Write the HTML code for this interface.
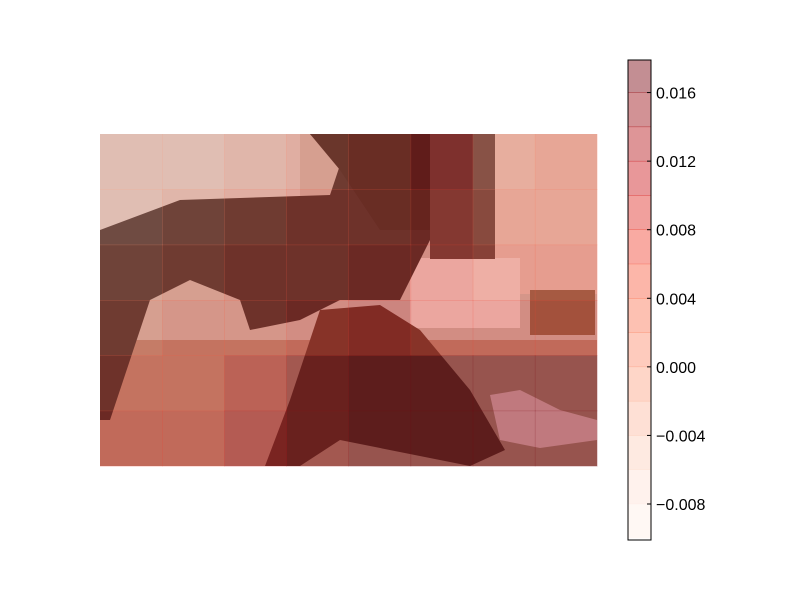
<!DOCTYPE html>
<html><head><meta charset="utf-8"><style>
body{margin:0;background:#fff;}
svg{display:block;font-family:"Liberation Sans",sans-serif;}
</style></head><body>
<svg id="chart" width="800" height="600" viewBox="0 0 800 600">
<g id="photo">
  <rect x="100" y="134" width="497" height="332" fill="#c2b6b0"/>
  <rect x="100" y="134" width="200" height="100" fill="#d2cccb"/>
  <rect x="495" y="134" width="102" height="160" fill="#dcc0b8"/>
  <rect x="410" y="258" width="110" height="70" fill="#e9dcda"/>
  <rect x="430" y="134" width="65" height="125" fill="#4a3432"/>
  <rect x="100" y="340" width="497" height="126" fill="#a88070"/>
  <path d="M100 230 L180 200 L330 195 L340 165 L310 134 L430 134 L430 240 L400 300 L340 300 L300 320 L250 330 L240 300 L190 280 L150 300 L110 420 L100 420 Z" fill="#241c1e"/>
  <path d="M310 134 L430 134 L430 230 L380 230 L340 170 Z" fill="#1c1415"/>
  <path d="M320 310 L380 305 L420 330 L470 390 L505 450 L470 466 L340 440 L300 466 L265 466 L290 400 Z" fill="#4f2c24"/>
  <path d="M490 395 L520 390 L560 410 L597 420 L597 440 L540 448 L500 440 Z" fill="#e6b8bb"/>
  <rect x="530" y="290" width="65" height="45" fill="#7a5a42"/>
</g>
<g id="overlay"></g>
<g id="cbar"></g>
</svg>
<script>
const cbLevels=[-0.010,-0.008,-0.006,-0.004,-0.002,0.000,0.002,0.004,0.006,0.008,0.010,0.012,0.014,0.016,0.018];
const cbTicks=[0.016,0.012,0.008,0.004,0.000,-0.004,-0.008];
const cbTickLabels=["0.016","0.012","0.008","0.004","0.000","\u22120.004","\u22120.008"];
const gridRows=6, gridCols=8;
const cellValues=[
 [-0.002,-0.002,0.000,0.002,0.004,0.008,0.000,0.002],
 [-0.002,0.000,0.002,0.004,0.004,0.006,0.002,0.002],
 [0.000,0.002,0.004,0.004,0.006,0.006,0.004,0.004],
 [0.002,0.004,0.004,0.006,0.008,0.006,0.006,0.006],
 [0.004,0.004,0.008,0.014,0.016,0.016,0.016,0.016],
 [0.006,0.006,0.010,0.014,0.016,0.016,0.016,0.016]
];
const NS="http://www.w3.org/2000/svg";
const img={x:100,y:134,w:497,h:332};
const cb={x:628,y:60,w:23,h:480};
const vmin=-0.0101, vmax=0.0179;
function yCb(v){return cb.y+cb.h*(vmax-Math.min(vmax,Math.max(vmin,v)))/(vmax-vmin);}
function reds(t){
  const stops=[[255,245,240],[254,224,210],[252,187,161],[252,146,114],[251,106,74],[239,59,44],[203,24,29],[165,15,21],[103,0,13]];
  t=Math.max(0,Math.min(1,t));const p=t*(stops.length-1),i=Math.min(stops.length-2,Math.floor(p)),f=p-i;
  const c=stops[i].map((a,k)=>Math.round(a+(stops[i+1][k]-a)*f));return `rgb(${c})`;}
function levelColor(v){
  let i=0;while(i<cbLevels.length-2&&v>=cbLevels[i+1])i++;
  return reds((i+0.5)/(cbLevels.length-1));}
const ov=document.getElementById('overlay');
const cw=img.w/gridCols, ch=img.h/gridRows;
cellValues.forEach((row,r)=>row.forEach((v,c)=>{
  const e=document.createElementNS(NS,'rect');
  
  
  e.setAttribute('x',img.x+c*cw);e.setAttribute('y',img.y+r*ch);
  e.setAttribute('width',cw+0.5);e.setAttribute('height',ch+0.5);
  e.setAttribute('fill',levelColor(v));e.setAttribute('fill-opacity','0.35');
  ov.appendChild(e);}));
const g=document.getElementById('cbar');
for(let i=0;i<cbLevels.length-1;i++){
  const e=document.createElementNS(NS,'rect');
  
  
  const y1=yCb(cbLevels[i+1]),y0=yCb(cbLevels[i]);
  e.setAttribute('x',cb.x);e.setAttribute('y',y1);e.setAttribute('width',cb.w);e.setAttribute('height',y0-y1);
  e.setAttribute('fill',reds((i+0.5)/(cbLevels.length-1)));e.setAttribute('fill-opacity','0.45');
  g.appendChild(e);
  const l=document.createElementNS(NS,'line');
  
  
  l.setAttribute('x1',cb.x);l.setAttribute('x2',cb.x+cb.w);l.setAttribute('y1',y1);l.setAttribute('y2',y1);
  l.setAttribute('stroke',reds((i+0.5)/(cbLevels.length-1)));l.setAttribute('stroke-width','0.6');l.setAttribute('stroke-opacity','0.6');
  g.appendChild(l);}
const fr=document.createElementNS(NS,'rect');


fr.setAttribute('x',cb.x);fr.setAttribute('y',cb.y);fr.setAttribute('width',cb.w);fr.setAttribute('height',cb.h);
fr.setAttribute('fill','none');fr.setAttribute('stroke','#000');
g.appendChild(fr);
cbTicks.forEach((v,i)=>{
  const y=yCb(v);
  const t=document.createElementNS(NS,'line');
  
  
  t.setAttribute('x1',cb.x+cb.w-4);t.setAttribute('x2',cb.x+cb.w);t.setAttribute('y1',y);t.setAttribute('y2',y);
  t.setAttribute('stroke','#000');g.appendChild(t);
  const tx=document.createElementNS(NS,'text');
  
  
  tx.setAttribute('x',cb.x+cb.w+5);tx.setAttribute('y',y+6);tx.setAttribute('font-size','16');
  tx.textContent=cbTickLabels[i];g.appendChild(tx);});
</script>
</body></html>
